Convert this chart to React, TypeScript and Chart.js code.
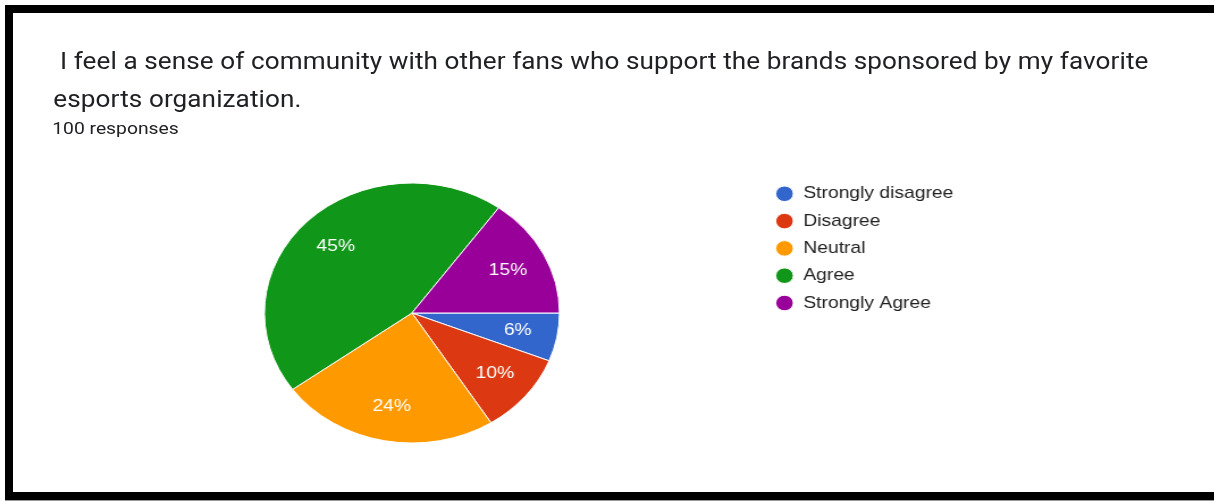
import React, { useEffect, useRef } from "react";
import { Chart, registerables } from "chart.js";

Chart.register(...registerables);

const TITLE_LINE_1 = " I feel a sense of community with other fans who support the brands sponsored by my favorite";
const TITLE_LINE_2 = "esports organization.";
const SUBTITLE = "100 responses";

const categories = ["Strongly disagree", "Disagree", "Neutral", "Agree", "Strongly Agree"];
const responses = [6, 10, 24, 45, 15];
const sliceColors = ["#3366CC", "#DC3912", "#FF9900", "#109618", "#990099"];

const SX = 1.135;

const sliceLabelPlugin = {
  id: "sliceLabels",
  afterDatasetsDraw(chart: any) {
    const ctx = chart.ctx;
    const meta = chart.getDatasetMeta(0);
    const values: number[] = chart.data.datasets[0].data;
    const total = values.reduce((a, b) => a + b, 0);
    ctx.save();
    ctx.fillStyle = "#ffffff";
    ctx.font = "17px 'Liberation Sans', Arial, sans-serif";
    ctx.textAlign = "center";
    ctx.textBaseline = "middle";
    meta.data.forEach((arc: any, i: number) => {
      const p = arc.getProps(["x", "y", "startAngle", "endAngle", "outerRadius"], true);
      const mid = (p.startAngle + p.endAngle) / 2;
      const r = p.outerRadius * 0.73;
      const pct = Math.round((values[i] / total) * 100);
      ctx.fillText(pct + "%", p.x + Math.cos(mid) * r, p.y + Math.sin(mid) * r);
    });
    ctx.restore();
  },
};

export default function App() {
  const canvasRef = useRef<HTMLCanvasElement | null>(null);

  useEffect(() => {
    document.body.style.overflow = "hidden";
    const canvas = canvasRef.current;
    if (!canvas) return;
    const chart = new Chart(canvas, {
      type: "pie",
      data: {
        labels: categories,
        datasets: [
          {
            data: responses,
            backgroundColor: sliceColors,
            borderColor: "#ffffff",
            borderWidth: 1,
            radius: 130,
          } as any,
        ],
      },
      options: {
        responsive: false,
        animation: false,
        rotation: 90,
        layout: { padding: { left: 53, right: 210, top: 175, bottom: 19 } },
        plugins: {
          legend: {
            position: "right",
            align: "start",
            labels: {
              usePointStyle: true,
              pointStyle: "circle",
              boxWidth: 16,
              boxHeight: 11,
              padding: 10.3,
              color: "#222222",
              font: { family: "'Liberation Sans', Arial, sans-serif", size: 17 },
            },
          },
          tooltip: { enabled: false },
        },
      },
      plugins: [sliceLabelPlugin],
    });
    return () => chart.destroy();
  }, []);

  return (
    <div style={{ position: "absolute", left: 0, top: 0, width: 1214, height: 501, overflow: "hidden", background: "#ffffff" }}>
      <div
        style={{
          position: "absolute",
          left: 5,
          top: 5,
          right: 0,
          height: 495,
          boxSizing: "border-box",
          borderLeft: "8px solid #000",
          borderTop: "8px solid #000",
          borderBottom: "8px solid #000",
          boxShadow: "0 1px 0 #999",
        }}
      />
      <div
        style={{
          position: "absolute",
          left: 0,
          top: 0,
          width: 1060,
          height: 470,
          transform: `scaleX(${SX})`,
          transformOrigin: "0 0",
        }}
      >
        <canvas ref={canvasRef} width={1060} height={470} style={{ position: "absolute", left: 0, top: 0 }} />
        <div
          style={{
            position: "absolute",
            left: 47,
            top: 43,
            fontFamily: "Roboto, sans-serif",
            fontSize: 23,
            lineHeight: "38px",
            letterSpacing: "0.08px",
            color: "#202124",
            whiteSpace: "pre",
          }}
        >
          {TITLE_LINE_1}
          <br />
          {TITLE_LINE_2}
        </div>
        <div
          style={{
            position: "absolute",
            left: 46,
            top: 117,
            fontFamily: "Roboto, sans-serif",
            fontSize: 17,
            lineHeight: "22px",
            color: "#202124",
            whiteSpace: "pre",
          }}
        >
          {SUBTITLE}
        </div>
      </div>
    </div>
  );
}
